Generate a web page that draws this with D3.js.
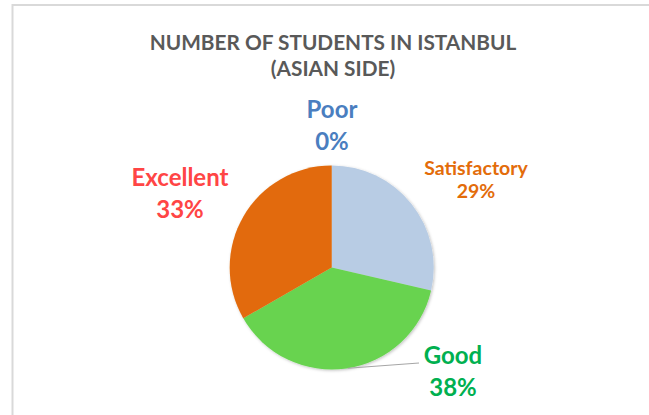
<!DOCTYPE html>
<html>
<head>
<meta charset="utf-8">
<script src="https://cdn.jsdelivr.net/npm/d3@7"></script>
<style>
  body { margin: 0; background: #fff; }
  text { font-family: Lato, "Open Sans", sans-serif; font-weight: bold; }
</style>
</head>
<body>
<div id="chart"></div>
<script>
// pie data
const categories = ["Poor", "Satisfactory", "Good", "Excellent"];
const values = [0, 28.6, 38.1, 33.3];
const sliceColors = ["#4f81bd", "#b8cce4", "#68d350", "#e26b0a"];
const labelColors = ["#4a7ebf", "#e36c0a", "#00b050", "#ff4545"];
const titleLines = ["NUMBER OF STUDENTS IN ISTANBUL", "(ASIAN SIDE)"];

// label layout (centre x, first baseline y, font size)
const labelPos = {
    "Poor": { x: 332, y: 118, size: 24 },
    "Satisfactory": { x: 476, y: 175, size: 19.5 },
    "Good": { x: 453, y: 364, size: 24 },
    "Excellent": { x: 180, y: 186, size: 24 }
};

let width = 649, height = 415;
let cx = 331.7, cy = 267.5, radius = 102;

let svg = d3.select("#chart")
    .append("svg")
    .attr("width", width)
    .attr("height", height);

// chart area border
svg.append("rect")
    .attr("x", 12.5)
    .attr("y", 5)
    .attr("width", width)
    .attr("height", height)
    .attr("fill", "#fff")
    .attr("stroke", "#d9d9d9")
    .attr("stroke-width", 2);

let defs = svg.append("defs");
let shadow = defs.append("filter").attr("id", "shadow")
    .attr("x", "-20%").attr("y", "-20%").attr("width", "140%").attr("height", "140%");
shadow.append("feDropShadow")
    .attr("dx", 1).attr("dy", 1).attr("stdDeviation", 1.5)
    .attr("flood-color", "#000").attr("flood-opacity", 0.25);

// title
svg.append("text")
    .attr("x", 333)
    .attr("text-anchor", "middle")
    .attr("fill", "#595959")
    .style("font-size", "20.8px")
    .selectAll("tspan")
    .data(titleLines)
    .enter()
    .append("tspan")
    .attr("x", 333)
    .attr("y", function (d, i) { return 50 + i * 26; })
    .text(function (d) { return d; });

let pie = d3.pie().sort(null).value(function (d) { return d; });
let arc = d3.arc().innerRadius(0).outerRadius(radius);
let arcs = pie(values);

let g = svg.append("g")
    .attr("transform", "translate(" + cx + "," + cy + ")");

g.append("g")
    .attr("filter", "url(#shadow)")
    .selectAll("path")
    .data(arcs)
    .enter()
    .append("path")
    .attr("d", arc)
    .attr("fill", function (d, i) { return sliceColors[i]; });

// leader line for Good
let leadAngle = 171 * Math.PI / 180;
let p0 = [radius * Math.sin(leadAngle), -radius * Math.cos(leadAngle)];
svg.append("polyline")
    .attr("points", [[cx + p0[0], cy + p0[1]], [419, 363]].map(function (p) { return p.join(","); }).join(" "))
    .attr("fill", "none")
    .attr("stroke", "#a6a6a6")
    .attr("stroke-width", 1.2);

// labels
let fmt = function (v) { return Math.round(v) + "%"; };
categories.forEach(function (c, i) {
    let p = labelPos[c];
    let t = svg.append("text")
        .attr("text-anchor", "middle")
        .attr("fill", labelColors[i])
        .style("font-size", p.size + "px");
    t.append("tspan").attr("x", p.x).attr("y", p.y).text(c);
    t.append("tspan").attr("x", p.x).attr("y", p.y + (p.size > 20 ? 32 : 23)).text(fmt(values[i]));
});
</script>
</body>
</html>
